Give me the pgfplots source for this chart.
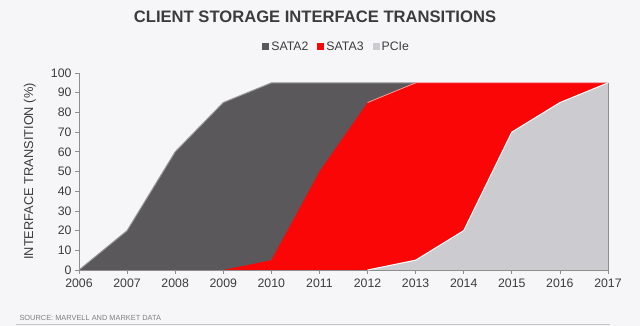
\documentclass[border=0pt]{standalone}
\usepackage{pgfplots}
\pgfplotsset{compat=1.18}
\usepackage{fontspec}
\setmainfont{Liberation Sans}
\definecolor{bg}{HTML}{F6F6F8}
\definecolor{sata2}{HTML}{5A585A}
\definecolor{sata3}{HTML}{FB0606}
\definecolor{pcie}{HTML}{CCCBCF}
\definecolor{txt}{HTML}{3C3C3C}
\definecolor{axc}{HTML}{8E8E8E}
\begin{document}
\begin{tikzpicture}
\fill[bg] (0pt,0pt) rectangle (640pt,326pt);
\useasboundingbox (0pt,0pt) rectangle (640pt,326pt);
\node[font=\bfseries\fontsize{16.6}{18}\selectfont, text=txt] at (315pt,309pt) {CLIENT STORAGE INTERFACE TRANSITIONS};
\node[font=\fontsize{7.4}{8}\selectfont, text=axc!90!black, anchor=west] at (16pt,8pt) {SOURCE: MARVELL AND MARKET DATA};
\draw[axc!50, line width=0.6pt] (16pt,2pt) -- (610pt,2pt);
\begin{axis}[
  at={(79pt,56pt)}, anchor=south west,
  scale only axis, width=529pt, height=197pt,
  xmin=2006, xmax=2017, ymin=0, ymax=100,
  axis lines*=left,
  axis line style={axc, line width=0.8pt},
  tick style={axc, line width=0.6pt},
  tick align=outside, major tick length=4pt,
  xtick={2006,...,2017}, ytick={0,10,...,100},
  x tick label style={/pgf/number format/1000 sep={}, yshift=-1pt},
  ticklabel style={font=\fontsize{12.3}{14}\selectfont, text=txt},
  /pgf/number format/assume math mode=true,
  ylabel={INTERFACE TRANSITION (\%)},
  ylabel style={font=\fontsize{12.8}{14}\selectfont, text=txt, at={(axis description cs:-0.093,0.5)}, anchor=center},
  legend style={at={(0.487,1.132)}, anchor=center, draw=none, fill=none,
    font=\fontsize{12.3}{14}\selectfont, text=txt, legend columns=3,
    /tikz/every even column/.append style={column sep=7pt}},
  legend image code/.code={\fill[#1] (0pt,-3.5pt) rectangle (7pt,3.5pt);},
  clip=false,
]
\addplot[fill=sata2, draw=none] coordinates {(2006,0)(2007,20)(2008,60)(2009,85)(2010,95)(2011,95)(2012,95)(2013,95)(2014,95)(2015,95)(2016,95)(2017,95)} \closedcycle;
\addlegendentry{SATA2}
\addplot[fill=sata3, draw=none] coordinates {(2009,0)(2010,5)(2011,50)(2012,85)(2013,95)(2014,95)(2015,95)(2016,95)(2017,95)} \closedcycle;
\addlegendentry{SATA3}
\addplot[fill=pcie, draw=none] coordinates {(2012,0)(2013,5)(2014,20)(2015,70)(2016,85)(2017,95)} \closedcycle;
\addlegendentry{PCIe}
\addplot[draw=gray!80, line width=1pt, forget plot] coordinates {(2006,0)(2007,20)(2008,60)(2009,85)(2010,95)(2013,95)};
\addplot[draw=white!60!sata3, line width=0.8pt, forget plot] coordinates {(2012,85)(2013,95)(2017,95)};
\addplot[draw=white, line width=1pt, forget plot] coordinates {(2012,0)(2013,5)(2014,20)(2015,70)(2016,85)(2017,95)};
\addplot[draw=axc, line width=0.8pt, forget plot] coordinates {(2017,0)(2017,95)};
\end{axis}
\end{tikzpicture}
\end{document}
